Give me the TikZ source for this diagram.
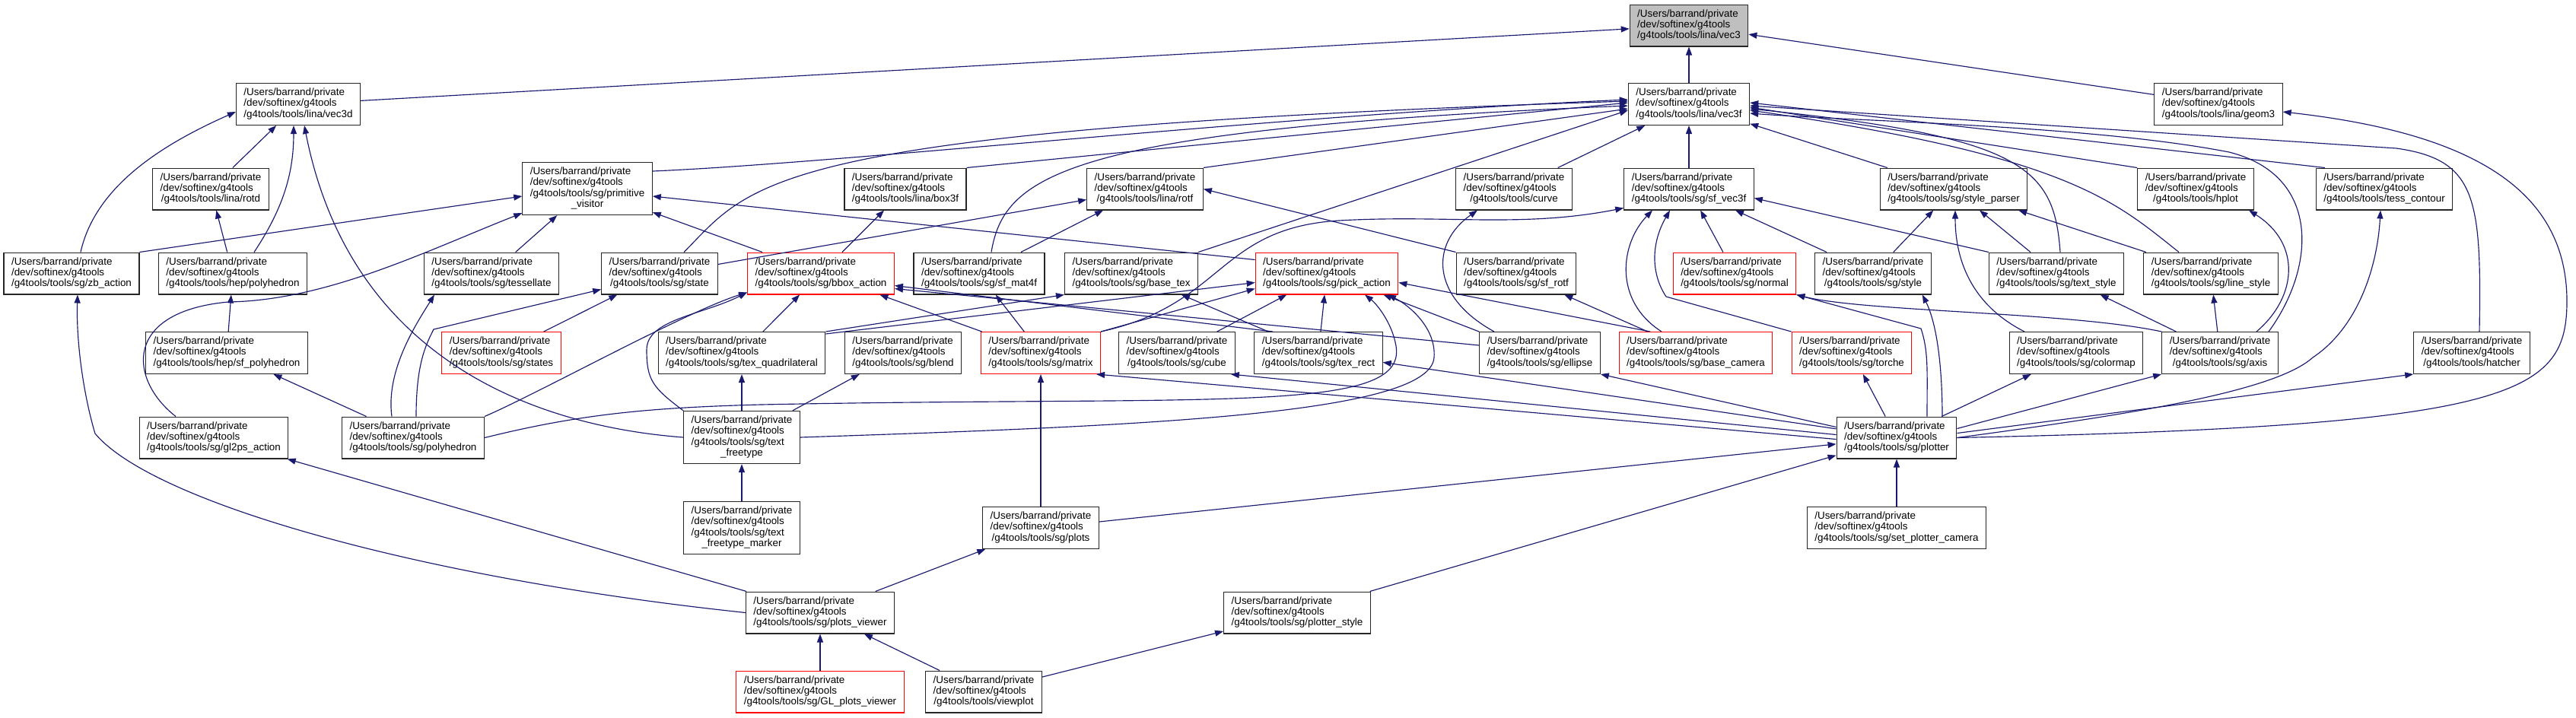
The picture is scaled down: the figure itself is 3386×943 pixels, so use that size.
\documentclass[tikz,border=0pt]{standalone}
\usepackage{fontspec}
\setmainfont{Liberation Sans}
\usepackage{xcolor}
\definecolor{edgeblue}{HTML}{191970}
\definecolor{rootgray}{HTML}{BFBFBF}
\usetikzlibrary{arrows.meta}
\newcommand{\fname}[2]{\begin{tabular}{@{}l@{}}/Users/barrand/private\\/dev/softinex/g4tools\\#1\multicolumn{1}{@{}c@{}}{#2}\end{tabular}}

\begin{document}
\begin{tikzpicture}[x=1pt,y=1pt,
  hdr/.style={draw=black!85, line width=1.1pt, fill=white, inner xsep=10pt, inner ysep=6pt,
              font=\fontsize{13.4}{14.3}\selectfont},
  hdrred/.style={hdr, draw=red},
  hdrroot/.style={hdr, fill=rootgray},
  incl/.style={draw=edgeblue, line width=1.15pt, -{Triangle[length=11pt,width=8pt]}}
]
  \useasboundingbox (0,0) rectangle (3386,-943);

  % row 0 and 1
  \node[hdrroot] (vec3)  at (2220,-33.5) {\fname{}{/g4tools/tools/lina/vec3}};
  \node[hdr] (vec3d)     at (392,-137)   {\fname{}{/g4tools/tools/lina/vec3d}};
  \node[hdr] (vec3f)     at (2220,-137)  {\fname{}{/g4tools/tools/lina/vec3f}};
  \node[hdr] (geom3)     at (2916,-137)  {\fname{}{/g4tools/tools/lina/geom3}};
  % row 2
  \node[hdr] (rotd)        at (277,-248.5)  {\fname{}{/g4tools/tools/lina/rotd}};
  \node[hdr] (primvisitor) at (772,-248)    {\fname{/g4tools/tools/sg/primitive\\}{\_visitor}};
  \node[hdr] (box3f)       at (1190,-248.5) {\fname{}{/g4tools/tools/lina/box3f}};
  \node[hdr] (rotf)        at (1505,-248.5) {\fname{}{/g4tools/tools/lina/rotf}};
  \node[hdr] (curve)       at (1990,-248.5) {\fname{}{/g4tools/tools/curve}};
  \node[hdr] (sfvec3f)     at (2220,-248.5) {\fname{}{/g4tools/tools/sg/sf\_vec3f}};
  \node[hdr] (styleparser) at (2568,-248.5) {\fname{}{/g4tools/tools/sg/style\_parser}};
  \node[hdr] (hplot)       at (2886,-248.5) {\fname{}{/g4tools/tools/hplot}};
  \node[hdr] (tesscontour) at (3134,-248.5) {\fname{}{/g4tools/tools/tess\_contour}};
  % row 3
  \node[hdr] (zbaction)      at (94,-359.5)   {\fname{}{/g4tools/tools/sg/zb\_action}};
  \node[hdr] (heppolyhedron) at (306,-359.5)  {\fname{}{/g4tools/tools/hep/polyhedron}};
  \node[hdr] (tessellate)    at (646,-359.5)  {\fname{}{/g4tools/tools/sg/tessellate}};
  \node[hdr] (state)         at (867,-359.5)  {\fname{}{/g4tools/tools/sg/state}};
  \node[hdrred] (bboxaction) at (1079,-359.5) {\fname{}{/g4tools/tools/sg/bbox\_action}};
  \node[hdr] (sfmat4f)       at (1287,-359.5) {\fname{}{/g4tools/tools/sg/sf\_mat4f}};
  \node[hdr] (basetex)       at (1487,-359.5) {\fname{}{/g4tools/tools/sg/base\_tex}};
  \node[hdrred] (pickaction) at (1744,-359.5) {\fname{}{/g4tools/tools/sg/pick\_action}};
  \node[hdr] (sfrotf)        at (1993,-359.5) {\fname{}{/g4tools/tools/sg/sf\_rotf}};
  \node[hdrred] (normal)     at (2280,-359.5) {\fname{}{/g4tools/tools/sg/normal}};
  \node[hdr] (style)         at (2462,-359.5) {\fname{}{/g4tools/tools/sg/style}};
  \node[hdr] (textstyle)     at (2703,-359.5) {\fname{}{/g4tools/tools/sg/text\_style}};
  \node[hdr] (linestyle)     at (2906,-359.5) {\fname{}{/g4tools/tools/sg/line\_style}};
  % row 4
  \node[hdr] (sfpolyhedron)  at (298,-464)  {\fname{}{/g4tools/tools/hep/sf\_polyhedron}};
  \node[hdrred] (states)     at (659,-464)  {\fname{}{/g4tools/tools/sg/states}};
  \node[hdr] (texquad)       at (975,-464)  {\fname{}{/g4tools/tools/sg/tex\_quadrilateral}};
  \node[hdr] (blend)         at (1187,-464) {\fname{}{/g4tools/tools/sg/blend}};
  \node[hdrred] (matrix)     at (1368,-464) {\fname{}{/g4tools/tools/sg/matrix}};
  \node[hdr] (cube)          at (1547,-464) {\fname{}{/g4tools/tools/sg/cube}};
  \node[hdr] (texrect)       at (1733,-464) {\fname{}{/g4tools/tools/sg/tex\_rect}};
  \node[hdr] (ellipse)       at (2024,-464) {\fname{}{/g4tools/tools/sg/ellipse}};
  \node[hdrred] (basecamera) at (2229,-464) {\fname{}{/g4tools/tools/sg/base\_camera}};
  \node[hdrred] (torche)     at (2434,-464) {\fname{}{/g4tools/tools/sg/torche}};
  \node[hdr] (colormap)      at (2729,-464) {\fname{}{/g4tools/tools/sg/colormap}};
  \node[hdr] (axis)          at (2918,-464) {\fname{}{/g4tools/tools/sg/axis}};
  \node[hdr] (hatcher)       at (3249,-464) {\fname{}{/g4tools/tools/hatcher}};
  % row 5
  \node[hdr] (gltwops)       at (281,-575.5) {\fname{}{/g4tools/tools/sg/gl2ps\_action}};
  \node[hdr] (sgpolyhedron)  at (543,-575.5) {\fname{}{/g4tools/tools/sg/polyhedron}};
  \node[hdr] (textfreetype)  at (975,-575)   {\fname{/g4tools/tools/sg/text\\}{\_freetype}};
  \node[hdr] (plotter)       at (2493,-575.5) {\fname{}{/g4tools/tools/sg/plotter}};
  % row 6 to 8
  \node[hdr] (freetypemarker) at (975,-694)  {\fname{/g4tools/tools/sg/text\\}{\_freetype\_marker}};
  \node[hdr] (plots)          at (1368,-694) {\fname{}{/g4tools/tools/sg/plots}};
  \node[hdr] (setcamera)      at (2493,-694) {\fname{}{/g4tools/tools/sg/set\_plotter\_camera}};
  \node[hdr] (plotsviewer)    at (1078,-805.5) {\fname{}{/g4tools/tools/sg/plots\_viewer}};
  \node[hdr] (plotterstyle)   at (1705,-805.5) {\fname{}{/g4tools/tools/sg/plotter\_style}};
  \node[hdrred] (glplotsviewer) at (1078,-909.5) {\fname{}{/g4tools/tools/sg/GL\_plots\_viewer}};
  \node[hdr] (viewplot)       at (1293,-909.5) {\fname{}{/g4tools/tools/viewplot}};

  % into vec3, vec3d, geom3
  \draw[incl] (vec3d) -- (vec3);
  \draw[incl] (vec3f) -- (vec3);
  \draw[incl] (geom3) -- (vec3);
  \draw[incl] (rotd) -- (vec3d);
  \draw[incl] ([xshift=28pt]heppolyhedron.north) .. controls +(40,60) and +(0,-60) .. ([xshift=-6pt]vec3d.south);
  \draw[incl] ([xshift=12pt]zbaction.north) .. controls +(20,90) and +(-90,-40) .. ([yshift=-10pt]vec3d.west);
  \draw[incl] (textfreetype.west) .. controls (700,-560) and (460,-470) .. ([xshift=8pt]vec3d.south);
  \draw[incl] (plotter.east) .. controls (3300,-560) and (3372,-520) .. (3374,-400)
                             .. controls (3376,-250) and (3250,-175) .. ([yshift=-10pt]geom3.east);

  % into vec3f
  \draw[incl] (primvisitor.15) .. controls (1100,-215) and (1700,-150) .. ([yshift=6pt]vec3f.west);
  \draw[incl] ([xshift=32pt]state.north) .. controls (990,-240) and (1000,-170) .. ([yshift=4pt]vec3f.west);
  \draw[incl] (box3f.north east) -- ([yshift=2pt]vec3f.west);
  \draw[incl] ([xshift=16pt]sfmat4f.north) .. controls (1320,-230) and (1400,-170) .. ([yshift=-2pt]vec3f.west);
  \draw[incl] (rotf.north east) -- ([yshift=-6pt]vec3f.west);
  \draw[incl] (basetex.north east) -- ([yshift=-8pt]vec3f.west);
  \draw[incl] (curve) -- (vec3f);
  \draw[incl] (sfvec3f) -- (vec3f);
  \draw[incl] (styleparser) -- (vec3f);
  \draw[incl] (hplot.north west) -- ([yshift=-4pt]vec3f.east);
  \draw[incl] ([xshift=12pt]tesscontour.north west) -- ([yshift=2pt]vec3f.east);
  \draw[incl] ([xshift=5pt]textstyle.north) .. controls (2700,-220) and (2660,-180) .. ([yshift=-6pt]vec3f.east);
  \draw[incl] ([xshift=-42pt]linestyle.north) .. controls (2780,-265) and (2720,-205) .. ([yshift=-8pt]vec3f.east);
  \draw[incl] ([xshift=64pt]axis.north) .. controls (3045,-350) and (3050,-230) .. (2930,-200)
                                      .. controls (2750,-165) and (2450,-160) .. ([yshift=-12pt]vec3f.east);
  \draw[incl] ([xshift=10pt]hatcher.north) .. controls (3262,-260) and (3255,-210) .. (3150,-195)
                                          -- ([yshift=-2pt]vec3f.east);

  % into primitive_visitor, box3f, rotf, state, tessellate
  \draw[incl] (zbaction.north east) -- ([yshift=-10pt]primvisitor.west);
  \draw[incl] ([xshift=-50pt]gltwops.north) .. controls (170,-500) and (160,-410) .. (300,-397)
                                            .. controls (430,-395) and (560,-330) .. ([yshift=3pt]primvisitor.south west);
  \draw[incl] (tessellate) -- (primvisitor);
  \draw[incl] (bboxaction) -- (primvisitor);
  \draw[incl] ([yshift=18pt]pickaction.west) -- ([yshift=-10pt]primvisitor.east);
  \draw[incl] (bboxaction) -- (box3f);
  \draw[incl] ([yshift=12pt]state.east) -- ([yshift=-14pt]rotf.west);
  \draw[incl] (sfmat4f) -- (rotf);
  \draw[incl] (sfrotf.north west) -- (rotf.east);
  \draw[incl] (states) -- (state);
  \draw[incl] ([xshift=4pt]sgpolyhedron.north) .. controls +(0,70) and +(-10,-20) .. (570,-433)
                                               -- ([yshift=7pt]state.south west);
  \draw[incl] ([xshift=-28pt]sgpolyhedron.north) .. controls +(-8,60) and +(-25,-40) .. ([xshift=-75pt]tessellate.south);
  \draw[incl] (heppolyhedron) -- (rotd);
  \draw[incl] (sfpolyhedron) -- (heppolyhedron);
  \draw[incl] (sgpolyhedron) -- (sfpolyhedron);

  % into bbox_action, sf_mat4f, base_tex
  \draw[incl] (texquad) -- (bboxaction);
  \draw[incl] (matrix) -- (bboxaction);
  \draw[incl] (sgpolyhedron.north east) .. controls +(70,30) and +(-80,-25) .. ([yshift=3pt]bboxaction.south west);
  \draw[incl] (textfreetype.north west) .. controls +(-40,30) and +(0,-40) .. (850,-460)
                                        .. controls +(0,40) and +(-60,-30) .. ([yshift=3pt]bboxaction.south west);
  \draw[incl] ([yshift=10pt]ellipse.west) -- ([yshift=-20pt]bboxaction.east);
  \draw[incl] ([xshift=-60pt]texrect.north) -- ([yshift=-16pt]bboxaction.east);
  \draw[incl] (matrix) -- (sfmat4f);
  \draw[incl] (texquad.north east) -- (basetex.south west);
  \draw[incl] (texrect) -- (basetex);

  % into pick_action
  \draw[incl] ([yshift=-3pt]texquad.north east) -- ([yshift=-12pt]pickaction.west);
  \draw[incl] (matrix.north east) -- ([yshift=-20pt]pickaction.west);
  \draw[incl] (cube) -- (pickaction);
  \draw[incl] (texrect) -- (pickaction);
  \draw[incl] (ellipse.north west) -- ([xshift=-20pt]pickaction.south east);
  \draw[incl] ([xshift=-60pt]basecamera.north) -- ([yshift=-12pt]pickaction.east);
  \draw[incl] (sgpolyhedron.east) .. controls (760,-545) and (850,-536) .. (1000,-532)
                                  .. controls (1600,-520) and (1850,-545) .. (1835,-455)
                                  .. controls (1830,-425) and (1810,-400) .. ([xshift=50pt]pickaction.south);
  \draw[incl] (textfreetype.east) .. controls (1500,-560) and (1880,-545) .. (1885,-470)
                                  .. controls (1888,-430) and (1850,-400) .. ([xshift=80pt]pickaction.south);

  % into sf_vec3f, curve, sf_rotf
  \draw[incl] (matrix.north east) .. controls (1610,-400) and (1600,-300) .. (1760,-290)
                                  .. controls (1900,-282) and (2000,-300) .. ([yshift=3pt]sfvec3f.south west);
  \draw[incl] ([xshift=-45pt]basecamera.north) .. controls (2120,-395) and (2130,-320) .. ([xshift=-48pt]sfvec3f.south);
  \draw[incl] (torche.north west) -- (2190,-390) .. controls (2170,-360) and (2170,-320) .. ([xshift=-25pt]sfvec3f.south);
  \draw[incl] (normal) -- (sfvec3f);
  \draw[incl] (style) -- (sfvec3f);
  \draw[incl] (textstyle.north west) -- ([yshift=-12pt]sfvec3f.east);
  \draw[incl] ([xshift=-60pt]ellipse.north) .. controls (1880,-390) and (1880,-320) .. ([xshift=-48pt]curve.south);
  \draw[incl] (basecamera) -- (sfrotf);

  % into normal, style, style_parser and the right column
  \draw[incl] ([xshift=40pt]plotter.north) .. controls +(0,60) and +(10,-30) .. (2525,-432) -- (normal.south east);
  \draw[incl] (axis.north west) .. controls (2720,-410) and (2450,-410) .. (normal.south east);
  \draw[incl] ([xshift=60pt]plotter.north) .. controls +(0,60) and +(20,-40) .. ([xshift=-12pt]style.south east);
  \draw[incl] (style) -- (styleparser);
  \draw[incl] ([xshift=-68pt]colormap.north) .. controls (2590,-400) and (2570,-340) .. ([xshift=2pt]styleparser.south);
  \draw[incl] (textstyle) -- (styleparser);
  \draw[incl] (linestyle) -- (styleparser);
  \draw[incl] (axis) -- (textstyle);
  \draw[incl] (axis) -- (linestyle);
  \draw[incl] ([xshift=48pt]axis.north) .. controls (3020,-390) and (3025,-320) .. ([xshift=70pt]hplot.south);

  % out of plotter
  \draw[incl] (plotter) -- (torche);
  \draw[incl] (plotter) -- (colormap);
  \draw[incl] ([yshift=12pt]plotter.east) -- (axis.south west);
  \draw[incl] (plotter.east) .. controls (2800,-545) and (2990,-515) .. (3040,-470)
                             .. controls (3100,-430) and (3125,-350) .. ([xshift=-5pt]tesscontour.south);
  \draw[incl] ([yshift=6pt]plotter.east) -- (hatcher.south west);
  \draw[incl] (plotter) -- (texrect);
  \draw[incl] ([yshift=14pt]plotter.west) -- (ellipse.south east);
  \draw[incl] ([yshift=4pt]plotter.west) -- ([xshift=-6pt]cube.south east);
  \draw[incl] ([yshift=-2pt]plotter.west) -- ([xshift=-6pt]matrix.south east);

  % lower part
  \draw[incl] (plots) -- (plotter);
  \draw[incl] (plotterstyle) -- (plotter);
  \draw[incl] (setcamera) -- (plotter);
  \draw[incl] (freetypemarker) -- (textfreetype);
  \draw[incl] (textfreetype) -- (texquad);
  \draw[incl] ([xshift=-10pt]textfreetype.north east) -- ([xshift=20pt]blend.south west);
  \draw[incl] (plotsviewer) -- (plots);
  \draw[incl] (plots) -- (matrix);
  \draw[incl] (glplotsviewer) -- (plotsviewer);
  \draw[incl] (viewplot) -- (plotsviewer);
  \draw[incl] (viewplot) -- (plotterstyle);
  \draw[incl] (plotsviewer) -- (gltwops);
  \draw[incl] (plotsviewer.west) .. controls (550,-760) and (200,-660) .. (125,-570)
                                 .. controls (110,-520) and (100,-450) .. ([xshift=8pt]zbaction.south);
\end{tikzpicture}
\end{document}
